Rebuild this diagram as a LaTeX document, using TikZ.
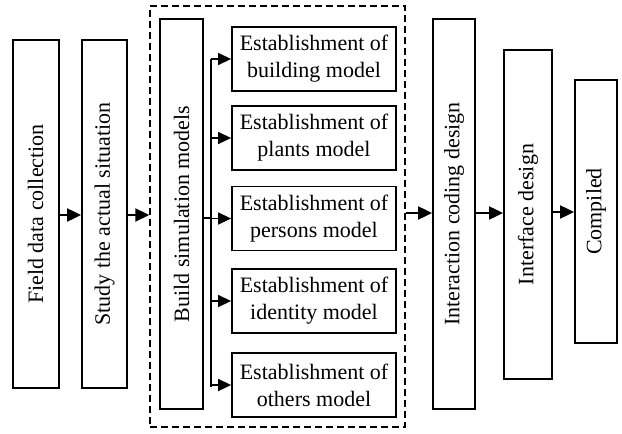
\documentclass[tikz,border=0pt]{standalone}
\usepackage{fontspec}
\setmainfont{Liberation Serif}
\usetikzlibrary{arrows.meta}
\begin{document}
\begin{tikzpicture}[x=1pt,y=-1pt,
  box/.style={draw,line width=1.8pt,inner sep=0pt},
  txt/.style={font=\fontsize{22}{27}\selectfont,align=center,inner sep=0pt},
  flow/.style={line width=2pt,-{Triangle[length=14pt,width=13pt]}},
  branch/.style={line width=1.4pt,-{Triangle[length=13pt,width=12pt]}},
  group/.style={draw,dashed,line width=1.4pt,dash pattern=on 7pt off 4pt}]
\useasboundingbox (0,0) rectangle (622,434);
% main stages
\node[box,minimum width=46pt,minimum height=348pt] (field) at (35.7,214) {};
\node[txt,rotate=90] (fieldT) at (field.center) {Field data collection};
\node[box,minimum width=45pt,minimum height=348pt] (study) at (104.5,214) {};
\node[txt,rotate=90] (studyT) at (study.center) {Study the actual situation};
% simulation group
\node[group,minimum width=255pt,minimum height=421pt] (grp) at (277.5,216.5) {};
\node[box,minimum width=43pt,minimum height=390pt] (build) at (181.5,214) {};
\node[txt,rotate=90] (buildT) at (build.center) {Build simulation models};
\foreach \n/\y/\w in {e1/59/building,e2/138/plants,e3/218.5/persons,e4/301/identity,e5/385/others}{
  \node[box,txt,minimum width=164pt,minimum height=64pt] (\n) at (314,\y) {Establishment of\\\w\ model};
}
\node[box,minimum width=42pt,minimum height=390pt] (inter) at (454,214) {};
\node[txt,rotate=90] (interT) at (inter.center) {Interaction coding design};
\node[box,minimum width=48pt,minimum height=329pt] (iface) at (528,214.5) {};
\node[txt,rotate=90] (ifaceT) at (iface.center) {Interface design};
\node[box,minimum width=42pt,minimum height=263pt] (comp) at (596,211.5) {};
\node[txt,rotate=90] (compT) at (comp.center) {Compiled};
% connectors
\draw[flow] (field.east |- 0,215) -- (study.west |- 0,215);
\draw[flow] (study.east |- 0,215) -- (grp.west |- 0,215);
\coordinate (bus) at (211,218);
\draw[line width=1.4pt] (build.east |- bus) -- (bus);
\draw[line width=1.2pt] (211,59) -- (211,387);
\foreach \n in {e1,e2,e3,e4,e5}{
  \draw[branch] (211,0 |- \n.west) -- (\n.west);
}
\draw[flow] (grp.east |- 0,213) -- (inter.west |- 0,213);
\draw[flow] (inter.east |- 0,213) -- (iface.west |- 0,213);
\draw[flow] (iface.east |- 0,212) -- (comp.west |- 0,212);
\end{tikzpicture}
\end{document}
